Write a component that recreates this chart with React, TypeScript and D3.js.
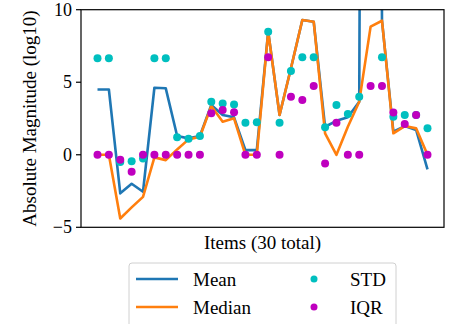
import React from "react";
import * as d3 from "d3";

// values are log10 magnitudes, one per item (30 items)
const items = d3.range(30);
const meanVals = [4.5, 4.5, -2.66, -2.0, -2.55, 4.62, 4.58, 1.29, 1.13, 1.3, 3.43, 2.74, 2.58, 0.32, 0.32,
  8.5, 2.74, 5.96, 9.29, 9.17, 1.93, 2.34, 2.58, 3.66, 200, 9.24, 1.59, 1.98, 1.71, -1.0];
const medianVals = [0, 0, -4.39, -3.63, -2.9, -0.18, -0.37, 0.37, 1.06, 1.24, 3.36, 2.28, 2.51, 0, 0,
  8.48, 2.74, 5.96, 9.29, 9.17, 1.48, 0, 1.93, 3.66, 8.83, 9.24, 1.48, 1.98, 1.82, 0];
const stdVals = [6.65, 6.65, -0.5, -0.45, -0.25, 6.65, 6.65, 1.2, 1.1, 1.3, 3.66, 3.54, 3.47, 2.2, 2.25,
  8.48, 2.2, 5.77, 6.72, 6.72, 1.9, 3.43, 2.81, 4.0, 200, 6.72, 2.62, 2.74, 2.74, 1.82];
const iqrVals = [0, 0, -0.35, -1.17, 0, 0, 0, 0, 0, 0, 2.86, 3.08, 2.93, 0, 0,
  6.72, 0, 4.0, 3.77, 4.74, -0.6, 2.2, 0, 0, 4.74, 4.74, 2.92, 2.12, 2.74, 0];
const yTicks = [-5, 0, 5, 10];

const W = 450;
const H = 324;
const plot = { left: 81, right: 444, top: 9.7, bottom: 227.3 };
const font = "'Liberation Serif', 'Times New Roman', serif";
const BLUE = "#1f77b4";
const ORANGE = "#ff7f0e";
const CYAN = "#00bfbf";
const MAGENTA = "#bf00bf";

export default function App() {
  const n = items.length;
  const pad = (n - 1) * 0.05;
  const x = d3.scaleLinear().domain([-pad, n - 1 + pad]).range([plot.left, plot.right]);
  const y = d3.scaleLinear().domain([-5, 10]).range([plot.bottom, plot.top]);

  const line = d3
    .line<number>()
    .x((_, i) => x(i))
    .y((d) => y(d));

  return (
    <svg width={W} height={H} style={{ position: "fixed", left: 0, top: 0, background: "#fff" }}>
      <defs>
        <clipPath id="plotClip">
          <rect x={plot.left} y={plot.top} width={plot.right - plot.left} height={plot.bottom - plot.top} />
        </clipPath>
      </defs>

      {/* series */}
      <g clipPath="url(#plotClip)">
        <path d={line(meanVals) || ""} fill="none" stroke={BLUE} strokeWidth={2.6} strokeLinejoin="round" />
        <path d={line(medianVals) || ""} fill="none" stroke={ORANGE} strokeWidth={2.6} strokeLinejoin="round" />
        {stdVals.map((v, i) => (
          <circle key={"s" + i} cx={x(i)} cy={y(v)} r={4} fill={CYAN} />
        ))}
        {iqrVals.map((v, i) => (
          <circle key={"q" + i} cx={x(i)} cy={y(v)} r={4} fill={MAGENTA} />
        ))}
      </g>

      {/* frame */}
      <rect
        x={plot.left}
        y={plot.top}
        width={plot.right - plot.left}
        height={plot.bottom - plot.top}
        fill="none"
        stroke="#000"
        strokeWidth={1.2}
      />

      {/* y axis */}
      {yTicks.map((t) => (
        <g key={t}>
          <line x1={plot.left - 5} x2={plot.left} y1={y(t)} y2={y(t)} stroke="#000" strokeWidth={1.2} />
          <text
            x={plot.left - 9}
            y={y(t)}
            textAnchor="end"
            dominantBaseline="central"
            fontFamily={font}
            fontSize={18}
          >
            {t < 0 ? "\u2212" + Math.abs(t) : t}
          </text>
        </g>
      ))}
      <text
        transform={`translate(29, ${(plot.top + plot.bottom) / 2}) rotate(-90)`}
        textAnchor="middle"
        dominantBaseline="central"
        fontFamily={font}
        fontSize={19}
      >
        Absolute Magnitude (log10)
      </text>

      {/* x label */}
      <text x={(plot.left + plot.right) / 2} y={249} textAnchor="middle" fontFamily={font} fontSize={19}>
        Items (30 total)
      </text>

      {/* legend */}
      <g>
        <rect x={129} y={263} width={267} height={70} rx={3} fill="#fff" stroke="#d0d0d0" strokeWidth={1} />
        <line x1={136} x2={178} y1={279} y2={279} stroke={BLUE} strokeWidth={2.6} />
        <text x={193} y={279} dominantBaseline="central" fontFamily={font} fontSize={19}>
          Mean
        </text>
        <line x1={136} x2={178} y1={307} y2={307} stroke={ORANGE} strokeWidth={2.6} />
        <text x={193} y={307} dominantBaseline="central" fontFamily={font} fontSize={19}>
          Median
        </text>
        <circle cx={314} cy={279} r={3.5} fill={CYAN} />
        <text x={350} y={279} dominantBaseline="central" fontFamily={font} fontSize={19}>
          STD
        </text>
        <circle cx={314} cy={307} r={3.5} fill={MAGENTA} />
        <text x={350} y={307} dominantBaseline="central" fontFamily={font} fontSize={19}>
          IQR
        </text>
      </g>
    </svg>
  );
}
